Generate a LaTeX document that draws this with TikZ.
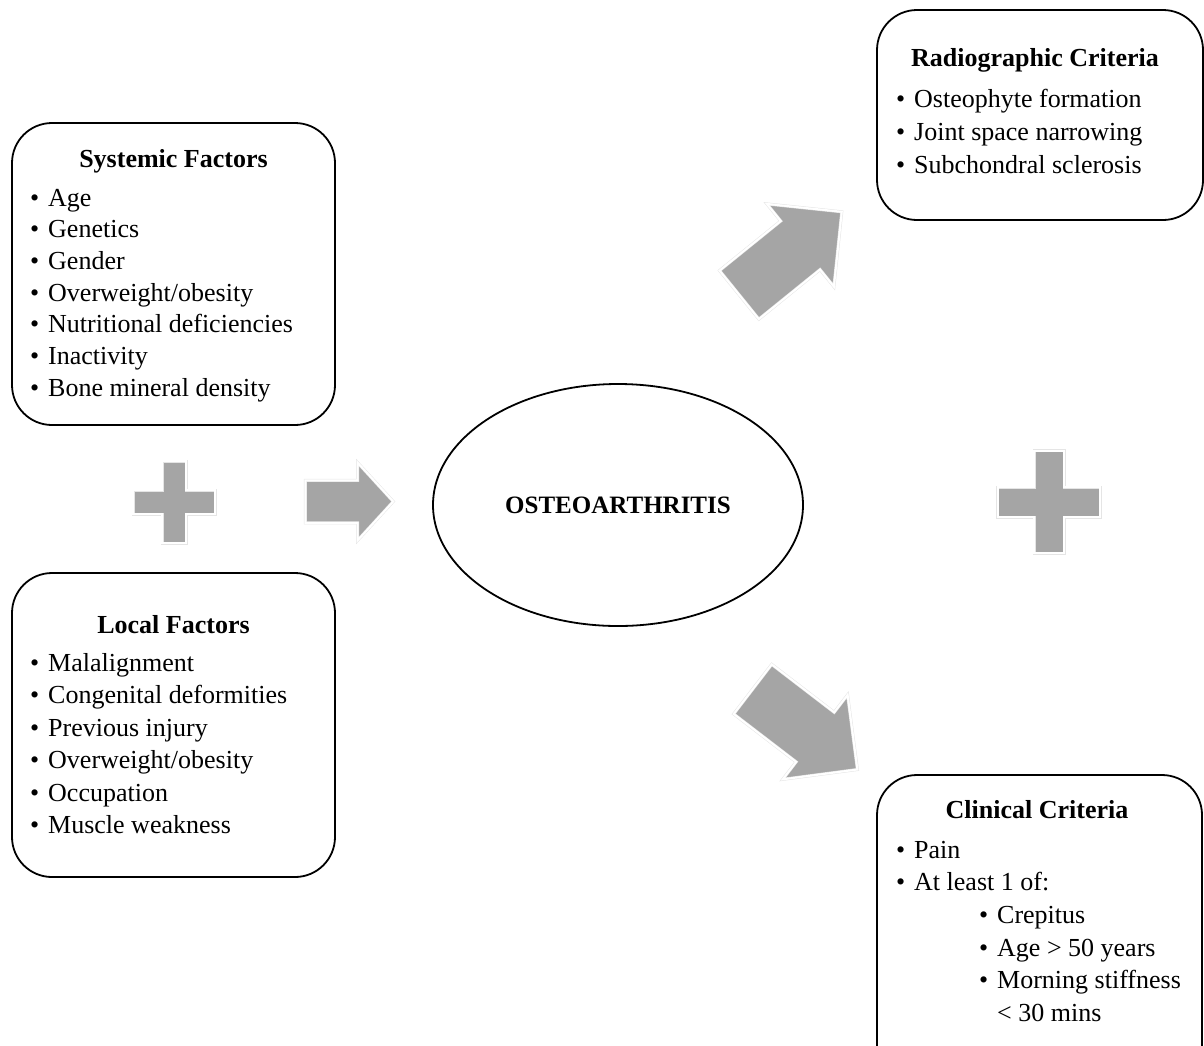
\documentclass[tikz,border=0pt]{standalone}
\usepackage{fontspec}
\setmainfont{Liberation Serif}
\usetikzlibrary{shapes.geometric,shapes.arrows}
\definecolor{arrowgray}{HTML}{A5A5A5}
\newcommand{\bul}{\makebox[18pt][l]{\textbullet}}
\tikzset{
  factorbox/.style = {shape=rectangle, rounded corners=40pt,
                      draw, line width=1.8pt},
  boxtitle/.style  = {font=\fontsize{26}{32.5}\selectfont\bfseries,
                      anchor=base, inner sep=0pt},
  boxlist/.style   = {font=\fontsize{26}{32.5}\selectfont,
                      text width=320pt, align=left,
                      execute at begin node={\spaceskip=0.25em plus 0.05em minus 0.05em\relax},
                      anchor=base west, inner sep=0pt},
  blockfill/.style = {fill=arrowgray, draw=black!10, line width=0.5pt,
                      double=white, double distance=2pt},
  blockarrow/.style = {blockfill, single arrow, anchor=tail,
                       inner sep=0pt, text depth=0pt},
  plussign/.pic    = {\path[blockfill] (-12,-41) -- (12,-41) -- (12,-12) -- (41,-12)
                      -- (41,12) -- (12,12) -- (12,41) -- (-12,41) -- (-12,12)
                      -- (-41,12) -- (-41,-12) -- (-12,-12) -- cycle;}
}
\begin{document}
\begin{tikzpicture}[x=1pt, y=-1pt]
  \useasboundingbox (0,0) rectangle (1204,1045);
  % factor boxes
  \node [factorbox, minimum width=323pt, minimum height=302pt] (sysbox) at (173.5,274) {};
  \node [boxtitle] (systitle) at (173.5,167) {Systemic Factors};
  \node [boxlist, font=\fontsize{26}{31.7}\selectfont] (syslist) at (30,206)
    {\bul Age\\ \bul Genetics\\ \bul Gender\\ \bul Overweight/obesity\\
     \bul Nutritional deficiencies\\ \bul Inactivity\\ \bul Bone mineral density};
  \node [factorbox, minimum width=323pt, minimum height=304pt] (locbox) at (173.5,725) {};
  \node [boxtitle] (loctitle) at (173.5,633) {Local Factors};
  \node [boxlist] (loclist) at (30,671)
    {\bul Malalignment\\ \bul Congenital deformities\\ \bul Previous injury\\
     \bul Overweight/obesity\\ \bul Occupation\\ \bul Muscle weakness};
  \pic (lplus) at (174,502) {plussign};
  \node [blockarrow, minimum height=88pt, text height=42pt,
         single arrow head extend=17.5pt, single arrow tip angle=95] (toarrow) at (305,501.5) {};
  % disease
  \node [ellipse, draw, line width=1.8pt, minimum width=370pt, minimum height=242pt,
         font=\fontsize{25}{30}\selectfont\bfseries] (oa) at (618,505) {OSTEOARTHRITIS};
  \node [blockarrow, minimum height=132pt, text height=62pt, rotate=39,
         single arrow head extend=22pt, single arrow tip angle=90] (uparrow) at (739,295) {};
  \node [blockarrow, minimum height=132pt, text height=62pt, rotate=-37.5,
         single arrow head extend=22pt, single arrow tip angle=90] (downarrow) at (752.5,689) {};
  % criteria boxes
  \node [factorbox, minimum width=326pt, minimum height=210pt] (radbox) at (1040,115) {};
  \node [boxtitle] (radtitle) at (1035,66.5) {Radiographic Criteria};
  \node [boxlist, font=\fontsize{26}{33}\selectfont] (radlist) at (896,107)
    {\bul Osteophyte formation\\ \bul Joint space narrowing\\ \bul Subchondral sclerosis};
  \pic [scale=1.25] (rplus) at (1049,502) {plussign};
  \node [factorbox, minimum width=325pt, minimum height=310pt] (clinbox) at (1039.5,930) {};
  \node [boxtitle] (clintitle) at (1037,818) {Clinical Criteria};
  \node [boxlist, font=\fontsize{26}{32.7}\selectfont] (clinlist) at (896,858)
    {\bul Pain\\ \bul At least 1 of:\\
     \hspace*{83pt}\bul Crepitus\\ \hspace*{83pt}\bul Age > 50 years\\
     \hspace*{83pt}\bul Morning stiffness\\ \hspace*{101pt}< 30 mins};
\end{tikzpicture}
\end{document}
